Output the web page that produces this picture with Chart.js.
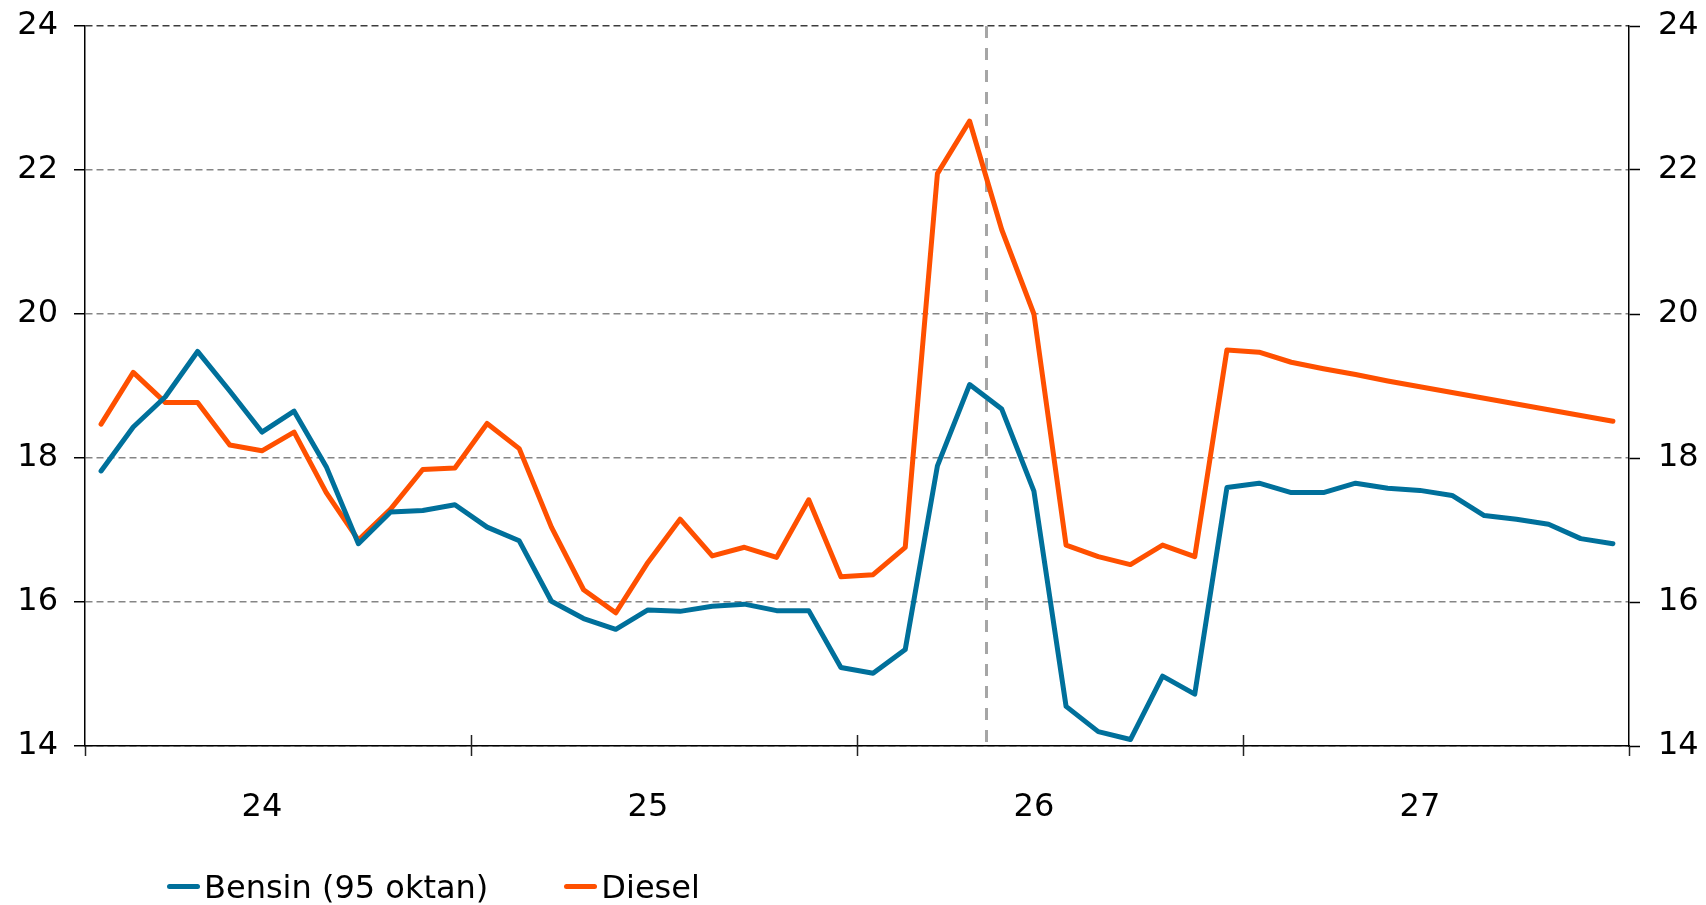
<!DOCTYPE html>
<html>
<head>
<meta charset="utf-8">
<script src="https://cdn.jsdelivr.net/npm/chart.js@4"></script>
<style>
  body { margin: 0; background: #fff; }
  #wrap { position: relative; width: 1706px; height: 905px; }
  #legend {
    position: absolute; left: 167px; top: 868px;
    font: 32px "DejaVu Sans", Verdana, sans-serif; line-height: 38px; color: #000;
    white-space: nowrap;
  }
  #legend .item { display: inline-block; margin-right: 76px; }
  #legend i {
    display: inline-block; width: 33px; height: 5px; border-radius: 3px;
    vertical-align: middle; position: relative; top: -3px; margin-right: 4px;
  }
</style>
</head>
<body>
<div id="wrap">
  <canvas id="chart"></canvas>
  <div id="legend"></div>
</div>
<script>
const years = ["24", "25", "26", "27"];
const months = ["01", "02", "03", "04", "05", "06", "07", "08", "09", "10", "11", "12"];
const lastActual = "26-04";

const bensin = [17.82, 18.43, 18.85, 19.48, 18.93, 18.36, 18.65, 17.88, 16.81, 17.25, 17.27, 17.35,
                17.04, 16.85, 16.01, 15.77, 15.62, 15.89, 15.87, 15.94, 15.97, 15.88, 15.88, 15.09,
                15.01, 15.34, 17.89, 19.02, 18.68, 17.54, 14.55, 14.20, 14.09, 14.97, 14.72, 17.59,
                17.65, 17.52, 17.52, 17.65, 17.58, 17.55, 17.48, 17.20, 17.15, 17.08, 16.88, 16.81];
const diesel = [18.47, 19.19, 18.77, 18.77, 18.18, 18.10, 18.36, 17.52, 16.86, 17.29, 17.84, 17.86,
                18.48, 18.13, 17.04, 16.17, 15.85, 16.55, 17.15, 16.64, 16.76, 16.62, 17.42, 16.35,
                16.38, 16.76, 21.95, 22.68, 21.17, 20.00, 16.79, 16.63, 16.52, 16.79, 16.63, 19.50,
                19.47, 19.33, 19.24, 19.16, 19.07, 18.99, 18.91, 18.83, 18.75, 18.67, 18.59, 18.51];

const seriesNames = ["Bensin (95 oktan)", "Diesel"];
const seriesColors = ["#00709b", "#ff5000"];

const categories = [];
years.forEach(y => months.forEach(m => categories.push(y + "-" + m)));

const font = { family: "'DejaVu Sans', Verdana, sans-serif", size: 32 };

// scales should not push the plot area around
function noPad(s){
  s.paddingTop = 0; s.paddingBottom = 0; s.paddingLeft = 0; s.paddingRight = 0;
}

// year boundary ticks (cross the axis) and the dashed line after last actual month
const extras = {
  id: "extras",
  beforeDatasetsDraw(chart){
    const { ctx, chartArea, scales: { x } } = chart;
    const px = Math.round(x.getPixelForValue(categories.indexOf(lastActual) + 0.5)) + 0.5;
    ctx.save();
    ctx.strokeStyle = "#a6a6a6";
    ctx.lineWidth = 3;
    ctx.setLineDash([12, 10]);
    ctx.beginPath();
    ctx.moveTo(px, chartArea.top);
    ctx.lineTo(px, chartArea.bottom);
    ctx.stroke();
    ctx.restore();
  },
  afterDraw(chart){
    const { ctx, chartArea, scales: { x } } = chart;
    ctx.save();
    ctx.strokeStyle = "#222";
    ctx.lineWidth = 1.5;
    for(let i = 0; i <= categories.length; i += months.length){
      const px = Math.round(x.getPixelForValue(i - 0.5)) + 0.5;
      const inner = i > 0 && i < categories.length;
      ctx.beginPath();
      ctx.moveTo(px, chartArea.bottom - (inner ? 11 : 0));
      ctx.lineTo(px, chartArea.bottom + 10);
      ctx.stroke();
    }
    ctx.restore();
  }
};

const chart = new Chart(document.getElementById("chart"), {
  type: "line",
  data: {
    labels: categories,
    datasets: [
      { label: seriesNames[0], data: bensin, borderColor: seriesColors[0], backgroundColor: seriesColors[0] },
      { label: seriesNames[1], data: diesel, borderColor: seriesColors[1], backgroundColor: seriesColors[1] }
    ]
  },
  options: {
    responsive: true,
    maintainAspectRatio: false,
    animation: false,
    layout: { padding: { top: 26, left: 0, right: 0, bottom: 0 } },
    elements: {
      point: { radius: 0, hoverRadius: 0 },
      line: { borderWidth: 5, tension: 0, borderCapStyle: "round", borderJoinStyle: "round" }
    },
    plugins: { legend: { display: false }, tooltip: { enabled: false } },
    scales: {
      x: {
        offset: true,
        grid: { display: false },
        border: { display: true, color: "#000", width: 1.5 },
        ticks: {
          autoSkip: false, maxRotation: 0, minRotation: 0,
          padding: 34, color: "#000", font,
          callback: (v, i) => i % 12 === 5 ? years[Math.floor(i / 12)] : ""
        },
        afterFit: s => { s.height = 159; noPad(s); }
      },
      y: {
        position: "left",
        min: 14, max: 24,
        ticks: { stepSize: 2, padding: 16, color: "#000", font },
        grid: {
          color: c => c.tick && c.tick.value === 24 ? "#3c3c3c" : "#858585",
          lineWidth: 1.5,
          tickLength: 11, tickColor: "#000", tickWidth: 1.5
        },
        border: { display: true, color: "#000", width: 1.5, dash: [7, 4] },
        afterFit: s => { s.width = 85; noPad(s); }
      },
      y2: {
        position: "right",
        min: 14, max: 24,
        ticks: { stepSize: 2, padding: 18, color: "#000", font },
        grid: { drawOnChartArea: false, tickLength: 11, tickColor: "#000", tickWidth: 1.5 },
        border: { display: true, color: "#000", width: 1.5 },
        afterFit: s => { s.width = 77; noPad(s); }
      }
    }
  },
  plugins: [extras]
});

// legend as text below the chart
const legend = document.getElementById("legend");
chart.data.datasets.forEach(ds => {
  const item = document.createElement("span");
  item.className = "item";
  const mark = document.createElement("i");
  mark.style.background = ds.borderColor;
  item.appendChild(mark);
  item.appendChild(document.createTextNode(ds.label));
  legend.appendChild(item);
});
</script>
</body>
</html>
